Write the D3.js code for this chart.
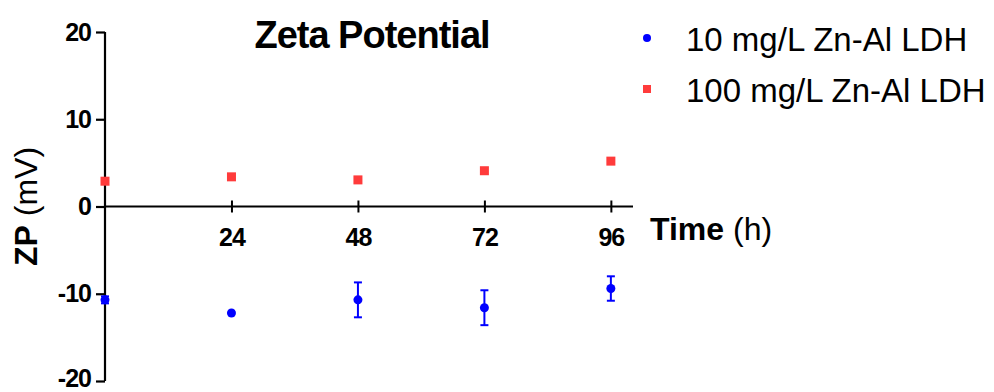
<!DOCTYPE html>
<html>
<head>
<meta charset="utf-8">
<script src="https://cdn.jsdelivr.net/npm/d3@7"></script>
<style>
  body { margin: 0; background: #fff; }
  svg { font-family: "Liberation Sans", Arial, sans-serif; }
</style>
</head>
<body>
<div id="chart"></div>
<script>
// data
var times = [0, 24, 48, 72, 96];
var low = [-10.7, -12.2, -10.7, -11.6, -9.4];     // 10 mg/L
var lowErr = [0.4, 0.2, 2.0, 2.0, 1.4];
var high = [2.9, 3.4, 3.05, 4.1, 5.2];            // 100 mg/L
var highErr = [0.2, 0.2, 0.2, 0.2, 0.2];
var xTicks = [24, 48, 72, 96];
var yTicks = [-20, -10, 0, 10, 20];
var seriesNames = ["10 mg/L Zn-Al LDH", "100 mg/L Zn-Al LDH"];
var colors = ["#0000ff", "#ff3b3b"];

var width = 994, height = 392;

var svg = d3.select("#chart").append("svg")
  .attr("width", width)
  .attr("height", height);

// scales
var x = d3.scaleLinear().domain([0, 100.2]).range([105, 633]);
var y = d3.scaleLinear().domain([-20, 20]).range([381, 32]);

// y axis (plain hyphen for minus, like the original)
var yAxis = d3.axisLeft(y).tickValues(yTicks).tickSize(9).tickPadding(5)
  .tickFormat(function(d) { return String(d); });
var gy = svg.append("g").attr("transform", "translate(" + x(0) + ",0)").call(yAxis);
gy.select(".domain").attr("stroke", "#000").attr("stroke-width", 2.2)
  .attr("d", "M0," + y(20) + "V" + y(-20));
gy.selectAll(".tick line").attr("stroke", "#000").attr("stroke-width", 2.2);
gy.selectAll(".tick text")
  .attr("font-size", 25).attr("font-weight", "bold").attr("fill", "#000")
  .attr("letter-spacing", -1);
gy.selectAll(".tick").filter(function(d) { return d === -20; })
  .select("text").attr("dy", "0.2em");

// x axis through zero, ticks cross the line
var xAxis = d3.axisBottom(x).tickValues(xTicks).tickSize(0).tickPadding(22);
var gx = svg.append("g").attr("transform", "translate(0," + y(0) + ")").call(xAxis);
gx.select(".domain").attr("stroke", "#000").attr("stroke-width", 2)
  .attr("d", "M" + x(0) + ",0H" + x(100.2));
gx.selectAll(".tick line").attr("y1", -6).attr("y2", 6)
  .attr("stroke", "#000").attr("stroke-width", 2);
gx.selectAll(".tick text")
  .attr("font-size", 25).attr("font-weight", "bold").attr("fill", "#000")
  .attr("letter-spacing", -1);

// axis titles
var xt = svg.append("text").attr("x", 650).attr("y", 240)
  .attr("font-size", 32).attr("fill", "#000");
xt.append("tspan").attr("font-weight", "bold").text("Time");
xt.append("tspan").text(" (h)");

var yt = svg.append("text")
  .attr("transform", "translate(37," + y(0) + ") rotate(-90)")
  .attr("text-anchor", "middle")
  .attr("font-size", 32).attr("fill", "#000");
yt.append("tspan").attr("font-weight", "bold").text("ZP");
yt.append("tspan").text(" (mV)");

// title
svg.append("text").attr("x", 372).attr("y", 48)
  .attr("text-anchor", "middle")
  .attr("font-size", 38).attr("font-weight", "bold")
  .attr("letter-spacing", -1)
  .text("Zeta Potential");

// error bars
function errBars(vals, errs, color) {
  var g = svg.append("g").attr("stroke", color).attr("stroke-width", 2);
  times.forEach(function(t, i) {
    if (errs[i] < 0.3) return;
    var cx = x(t);
    g.append("line").attr("x1", cx).attr("x2", cx)
      .attr("y1", y(vals[i] + errs[i])).attr("y2", y(vals[i] - errs[i]));
    g.append("line").attr("x1", cx - 4).attr("x2", cx + 4)
      .attr("y1", y(vals[i] + errs[i])).attr("y2", y(vals[i] + errs[i]));
    g.append("line").attr("x1", cx - 4).attr("x2", cx + 4)
      .attr("y1", y(vals[i] - errs[i])).attr("y2", y(vals[i] - errs[i]));
  });
}
errBars(low, lowErr, colors[0]);
errBars(high, highErr, colors[1]);

// points
svg.selectAll("circle.low").data(low).enter().append("circle")
  .attr("class", "low")
  .attr("cx", function(d, i) { return x(times[i]); })
  .attr("cy", function(d) { return y(d); })
  .attr("r", 4.5)
  .attr("fill", colors[0]);

svg.selectAll("rect.high").data(high).enter().append("rect")
  .attr("class", "high")
  .attr("x", function(d, i) { return x(times[i]) - 4.5; })
  .attr("y", function(d) { return y(d) - 4.5; })
  .attr("width", 9).attr("height", 9)
  .attr("fill", colors[1]);

// legend
var leg = svg.append("g");
leg.append("circle").attr("cx", 647).attr("cy", 38).attr("r", 4).attr("fill", colors[0]);
leg.append("rect").attr("x", 643).attr("y", 85).attr("width", 8).attr("height", 8).attr("fill", colors[1]);
leg.selectAll("text").data(seriesNames).enter().append("text")
  .attr("x", 686)
  .attr("y", function(d, i) { return 51 + i * 51; })
  .attr("font-size", 33).attr("fill", "#000")
  .text(function(d) { return d; });
</script>
</body>
</html>
